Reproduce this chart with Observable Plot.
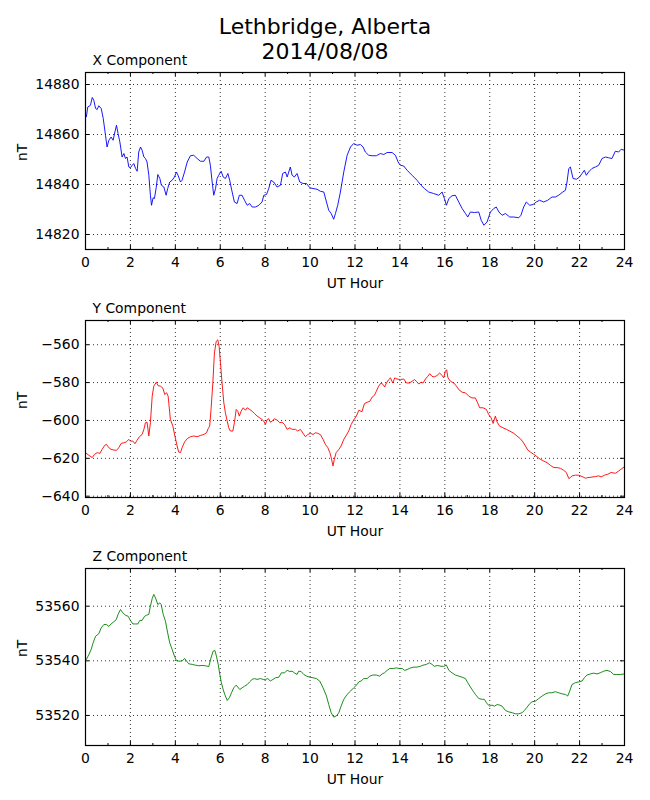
<!DOCTYPE html>
<html>
<head>
<meta charset="utf-8">
<script src="https://cdn.jsdelivr.net/npm/d3@7"></script>
<script src="https://cdn.jsdelivr.net/npm/@observablehq/plot@0.6"></script>
<style>
  html, body { margin: 0; padding: 0; background: white; }
  body { width: 650px; height: 800px; position: relative; font-family: "DejaVu Sans", sans-serif; }
  #title { position: absolute; left: 0; top: 14px; width: 650px; text-align: center; font-size: 22px; line-height: 25px; color: black; z-index: 2; }
  #charts { position: absolute; left: 0; top: 48px; z-index: 1; }
  #charts svg { display: block; }
</style>
</head>
<body>
<div id="title">Lethbridge, Alberta<br>2014/08/08</div>
<div id="charts"></div>
<script>
const xHours = [0.04,0.10,0.22,0.30,0.37,0.45,0.52,0.59,0.70,0.79,0.89,0.96,1.04,1.14,1.23,1.31,1.38,1.45,1.53,1.63,1.71,1.78,1.85,1.93,2.00,2.08,2.15,2.23,2.30,2.37,2.45,2.52,2.60,2.67,2.74,2.82,2.89,2.94,3.01,3.07,3.15,3.22,3.31,3.38,3.49,3.59,3.66,3.75,3.86,3.96,4.05,4.12,4.23,4.30,4.41,4.53,4.67,4.82,4.97,5.12,5.27,5.39,5.49,5.56,5.64,5.71,5.79,5.86,5.93,6.04,6.13,6.23,6.34,6.42,6.53,6.63,6.75,6.85,6.97,7.08,7.20,7.31,7.42,7.57,7.72,7.86,7.94,8.06,8.16,8.26,8.38,8.53,8.68,8.78,8.90,8.98,9.05,9.12,9.20,9.30,9.42,9.54,9.69,9.84,9.99,10.13,10.31,10.46,10.61,10.73,10.83,10.94,11.05,11.13,11.23,11.35,11.50,11.65,11.80,11.94,12.09,12.24,12.36,12.46,12.61,12.76,12.95,13.13,13.28,13.43,13.65,13.80,13.92,14.02,14.17,14.32,14.54,14.76,14.94,15.09,15.28,15.50,15.73,15.88,15.98,16.07,16.18,16.32,16.47,16.62,16.77,16.92,17.02,17.14,17.32,17.51,17.62,17.74,17.88,18.03,18.18,18.29,18.41,18.55,18.70,18.89,19.07,19.29,19.39,19.51,19.63,19.78,19.93,20.07,20.22,20.40,20.58,20.77,20.92,21.07,21.22,21.37,21.44,21.52,21.59,21.71,21.86,22.00,22.11,22.21,22.30,22.40,22.55,22.70,22.85,23.00,23.15,23.29,23.44,23.59,23.74,23.85,24.00];
const xValues = [14867.1,14871.0,14871.7,14874.8,14873.7,14870.4,14870.0,14871.5,14870.4,14866.4,14859.7,14855.0,14857.7,14859.0,14857.7,14861.0,14863.7,14860.4,14857.0,14851.0,14852.4,14850.4,14851.0,14847.0,14846.7,14847.7,14848.4,14846.4,14845.3,14853.0,14855.0,14853.7,14851.0,14850.4,14849.0,14843.7,14835.7,14831.7,14834.7,14834.4,14838.9,14844.0,14842.4,14839.7,14839.0,14835.7,14838.4,14841.0,14841.7,14843.0,14845.0,14843.7,14841.0,14841.7,14845.0,14849.0,14851.5,14851.7,14850.4,14849.3,14849.3,14851.0,14851.0,14847.7,14841.0,14835.7,14838.4,14842.4,14843.7,14845.3,14843.0,14842.4,14844.4,14841.7,14837.0,14833.0,14832.4,14835.7,14835.7,14833.7,14831.7,14832.4,14831.0,14831.0,14831.7,14833.0,14835.7,14836.0,14838.4,14841.7,14841.0,14839.0,14839.7,14844.4,14845.0,14843.0,14845.0,14847.0,14843.7,14843.0,14844.4,14841.0,14840.4,14840.4,14838.7,14838.4,14838.1,14837.3,14837.0,14833.0,14829.7,14828.4,14826.1,14828.4,14831.7,14837.0,14845.0,14851.7,14855.0,14856.4,14855.7,14856.0,14855.0,14853.0,14851.7,14851.5,14851.5,14852.4,14852.0,14852.8,14852.8,14851.7,14849.0,14847.7,14847.4,14845.7,14843.7,14841.7,14839.7,14838.4,14837.0,14836.4,14835.7,14837.0,14834.4,14831.7,14834.4,14835.5,14835.7,14833.0,14830.4,14828.4,14827.0,14829.0,14828.8,14829.0,14825.7,14823.7,14825.0,14829.0,14830.4,14831.0,14829.0,14827.7,14828.4,14827.0,14827.0,14826.7,14827.7,14831.0,14833.0,14831.7,14832.0,14833.0,14833.7,14833.0,14833.7,14835.0,14835.0,14835.7,14836.8,14837.7,14841.0,14846.4,14847.0,14842.4,14842.1,14843.0,14844.4,14845.7,14843.7,14845.0,14846.4,14847.0,14847.7,14850.4,14851.0,14850.7,14850.4,14853.3,14853.0,14854.1,14853.7];

const yHours = [0.04,0.15,0.30,0.40,0.52,0.64,0.74,0.85,0.93,1.04,1.14,1.26,1.38,1.48,1.59,1.71,1.81,1.93,2.00,2.11,2.20,2.30,2.40,2.52,2.60,2.67,2.74,2.82,2.89,2.97,3.04,3.15,3.23,3.34,3.44,3.53,3.61,3.68,3.78,3.89,3.98,4.08,4.15,4.23,4.30,4.41,4.53,4.67,4.82,4.97,5.12,5.27,5.39,5.46,5.53,5.59,5.67,5.74,5.82,5.89,5.95,6.01,6.08,6.16,6.23,6.31,6.38,6.45,6.56,6.63,6.71,6.78,6.85,6.93,7.02,7.12,7.20,7.31,7.42,7.52,7.64,7.76,7.86,7.94,8.01,8.09,8.16,8.23,8.31,8.41,8.53,8.65,8.75,8.86,8.98,9.10,9.20,9.35,9.45,9.57,9.69,9.79,9.90,10.01,10.13,10.24,10.34,10.46,10.58,10.68,10.79,10.88,10.94,11.02,11.08,11.16,11.28,11.38,11.50,11.62,11.72,11.83,11.94,12.06,12.17,12.31,12.42,12.54,12.66,12.76,12.86,12.95,13.05,13.16,13.25,13.32,13.40,13.50,13.58,13.68,13.77,13.87,14.02,14.17,14.29,14.43,14.54,14.65,14.73,14.84,14.94,15.03,15.14,15.24,15.33,15.43,15.53,15.65,15.77,15.88,15.95,16.02,16.08,16.14,16.25,16.40,16.52,16.62,16.77,16.92,17.07,17.21,17.36,17.46,17.55,17.70,17.85,17.95,18.06,18.15,18.25,18.33,18.44,18.59,18.74,18.89,19.07,19.21,19.36,19.48,19.59,19.69,19.81,19.96,20.10,20.25,20.40,20.55,20.70,20.85,21.00,21.15,21.29,21.41,21.52,21.59,21.66,21.81,21.96,22.11,22.26,22.36,22.51,22.71,22.85,22.96,23.11,23.26,23.40,23.59,23.74,23.89,24.00];
const yValues = [-617.4,-618.4,-619.6,-617.9,-617.0,-617.4,-615.3,-613.2,-612.6,-614.4,-615.3,-615.6,-615.8,-614.4,-612.1,-611.8,-611.4,-610.0,-610.9,-610.9,-612.3,-610.4,-608.6,-607.4,-604.7,-601.2,-600.9,-608.2,-601.2,-587.2,-581.9,-579.8,-581.6,-581.9,-582.8,-586.3,-585.4,-587.2,-599.5,-603.0,-608.2,-613.5,-616.7,-617.0,-614.4,-611.4,-609.6,-608.6,-608.2,-608.6,-607.9,-607.4,-606.5,-604.4,-603.0,-594.2,-580.2,-564.4,-558.2,-557.4,-560.9,-569.6,-580.2,-590.7,-596.0,-600.4,-603.9,-605.6,-605.6,-601.2,-594.2,-595.1,-597.7,-595.1,-593.3,-594.6,-593.3,-594.2,-595.1,-596.3,-597.7,-598.6,-599.5,-600.4,-602.1,-599.5,-599.1,-600.9,-600.4,-599.1,-599.8,-601.2,-600.9,-602.1,-604.7,-603.9,-604.7,-604.7,-605.6,-604.7,-606.8,-608.6,-607.4,-606.8,-607.4,-606.5,-606.8,-607.5,-610.0,-612.6,-614.4,-617.0,-619.6,-624.0,-620.5,-617.0,-615.3,-613.5,-610.0,-607.7,-605.6,-602.1,-599.8,-597.7,-594.6,-595.4,-591.1,-590.4,-589.9,-587.7,-586.8,-584.6,-581.9,-580.2,-581.0,-582.3,-580.2,-578.4,-577.5,-580.2,-577.5,-578.1,-578.4,-578.1,-580.2,-580.2,-579.3,-578.4,-579.3,-580.7,-579.8,-580.2,-578.1,-576.7,-575.3,-576.7,-577.0,-576.3,-574.9,-576.3,-577.5,-574.0,-573.2,-577.5,-579.3,-580.2,-581.9,-583.7,-585.1,-585.4,-587.2,-588.1,-588.1,-590.7,-593.3,-593.3,-594.2,-596.8,-598.6,-601.6,-597.7,-600.9,-603.0,-603.9,-604.7,-605.6,-606.8,-608.2,-609.6,-611.4,-613.5,-615.6,-616.7,-617.9,-619.1,-620.5,-621.4,-622.3,-623.7,-624.9,-624.9,-625.3,-626.3,-627.5,-630.7,-630.2,-629.3,-628.9,-628.9,-629.6,-630.5,-630.2,-630.0,-629.6,-629.3,-629.8,-628.9,-628.4,-627.5,-627.9,-626.7,-625.4,-624.4];

const zHours = [0.04,0.15,0.25,0.34,0.45,0.59,0.70,0.82,0.93,1.04,1.14,1.26,1.37,1.45,1.56,1.66,1.78,1.90,2.00,2.11,2.23,2.33,2.42,2.52,2.63,2.72,2.82,2.89,2.97,3.04,3.12,3.22,3.31,3.37,3.46,3.56,3.66,3.75,3.86,3.96,4.05,4.15,4.23,4.33,4.41,4.50,4.60,4.75,4.90,5.04,5.19,5.34,5.49,5.59,5.68,5.76,5.83,5.91,5.98,6.05,6.13,6.20,6.31,6.41,6.50,6.60,6.71,6.78,6.87,6.97,7.08,7.20,7.31,7.42,7.52,7.64,7.79,7.91,8.01,8.12,8.23,8.35,8.46,8.61,8.72,8.86,8.98,9.10,9.20,9.30,9.42,9.49,9.60,9.72,9.84,9.99,10.13,10.28,10.43,10.58,10.73,10.83,10.94,11.05,11.17,11.28,11.38,11.50,11.65,11.80,11.94,12.09,12.17,12.27,12.39,12.54,12.66,12.80,12.95,13.10,13.21,13.31,13.43,13.55,13.70,13.84,13.99,14.10,14.21,14.32,14.47,14.62,14.76,14.91,15.03,15.18,15.31,15.43,15.53,15.68,15.83,15.95,16.07,16.18,16.32,16.47,16.62,16.77,16.92,17.02,17.14,17.26,17.36,17.51,17.66,17.76,17.88,18.00,18.10,18.21,18.33,18.44,18.55,18.70,18.85,19.00,19.14,19.29,19.44,19.54,19.66,19.78,19.88,20.03,20.18,20.33,20.48,20.62,20.77,20.92,21.07,21.22,21.37,21.47,21.56,21.66,21.81,21.96,22.11,22.21,22.33,22.48,22.63,22.77,22.92,23.07,23.22,23.37,23.52,23.66,23.81,24.00];
const zValues = [53540.5,53542.3,53544.1,53546.6,53549.0,53549.9,53552.1,53553.3,53553.3,53552.6,53553.5,53554.3,53555.1,53557.0,53558.8,53557.6,53556.7,53556.3,53554.8,53553.5,53553.5,53553.5,53554.8,53554.8,53556.3,53556.7,53557.0,53560.0,53562.8,53564.3,53563.0,53560.6,53561.2,53560.6,53557.0,53554.5,53550.2,53546.6,53544.1,53541.7,53540.1,53539.9,53539.9,53540.1,53540.9,53539.9,53538.9,53538.7,53538.4,53538.2,53538.3,53538.2,53537.9,53541.1,53543.5,53543.8,53541.7,53538.7,53535.0,53532.0,53529.5,53527.7,53525.5,53526.5,53528.3,53530.1,53531.1,53530.4,53529.5,53530.1,53530.7,53531.3,53532.3,53533.2,53533.5,53533.2,53533.5,53533.2,53533.2,53533.5,53532.6,53533.2,53533.8,53534.0,53535.6,53535.6,53536.5,53536.1,53536.2,53535.6,53535.0,53536.2,53536.1,53535.0,53534.4,53534.0,53533.8,53533.5,53532.6,53530.1,53527.1,53524.0,53521.0,53519.4,53519.8,53521.0,53523.4,53525.9,53527.7,53528.9,53530.1,53531.3,53532.3,53532.6,53533.5,53533.5,53534.4,53534.8,53534.8,53534.4,53535.2,53535.6,53536.5,53537.2,53537.2,53537.4,53537.2,53537.2,53536.5,53536.8,53537.4,53537.7,53537.7,53538.0,53538.4,53538.7,53539.3,53538.7,53538.0,53538.3,53538.0,53538.0,53538.4,53536.5,53535.6,53534.8,53534.4,53534.0,53533.5,53532.0,53530.4,53528.9,53527.7,53526.2,53525.9,53525.9,53524.3,53523.4,53523.8,53523.4,53524.0,53523.8,53523.4,53521.8,53521.3,53521.0,53520.6,53520.6,53521.0,53521.8,53523.0,53524.3,53525.0,53525.2,53526.2,53527.1,53527.9,53528.3,53528.3,53528.7,53528.3,53527.9,53527.7,53527.1,53528.9,53531.3,53532.0,53532.3,53532.6,53533.8,53534.8,53535.2,53535.5,53535.2,53535.6,53536.2,53536.5,53536.1,53535.0,53535.0,53535.0,53535.2];

const hourTicks = [0,2,4,6,8,10,12,14,16,18,20,22,24];
const hourMinorTicks = [1,3,5,7,9,11,13,15,17,19,21,23];
const xTicks = [14820,14840,14860,14880];
const yTicks = [-640,-620,-600,-580,-560];
const zTicks = [53520,53540,53560];

const W = 650, H = 248, ML = 85, MR = 26, MT = 24, MB = 47;
const FW = W - ML - MR, FH = H - MT - MB;
const fmt = d3.format("d");

function panel(hours, values, color, domain, ticks, title) {
  const data = hours.map((h, i) => ({h, v: values[i]}));
  return Plot.plot({
    width: W, height: H,
    marginLeft: ML, marginRight: MR, marginTop: MT, marginBottom: MB,
    style: {fontFamily: "DejaVu Sans", fontSize: "13.9px", color: "black", background: "transparent", overflow: "visible"},
    x: {domain: [0, 24]},
    y: {domain},
    marks: [
      Plot.gridX(hourTicks, {stroke: "black", strokeOpacity: 1, strokeWidth: 0.8, strokeDasharray: "1,3"}),
      Plot.gridY(ticks, {stroke: "black", strokeOpacity: 1, strokeWidth: 0.8, strokeDasharray: "1,3"}),
      Plot.line(data, {x: "h", y: "v", stroke: color, strokeWidth: 0.9}),
      Plot.tickX(hourTicks, {x: d => d, stroke: "black", insetTop: FH - 4}),
      Plot.tickX(hourTicks, {x: d => d, stroke: "black", insetBottom: FH - 4}),
      Plot.tickX(hourMinorTicks, {x: d => d, stroke: "black", insetTop: FH - 2}),
      Plot.tickX(hourMinorTicks, {x: d => d, stroke: "black", insetBottom: FH - 2}),
      Plot.tickY(ticks, {y: d => d, stroke: "black", insetRight: FW - 4}),
      Plot.tickY(ticks, {y: d => d, stroke: "black", insetLeft: FW - 4}),
      Plot.frame({stroke: "black", strokeWidth: 1.2}),
      Plot.axisX(hourTicks, {tickSize: 0, tickPadding: 8, label: null, tickFormat: fmt}),
      Plot.axisY(ticks, {tickSize: 0, tickPadding: 6, label: null, tickFormat: fmt}),
      Plot.text(["UT Hour"], {frameAnchor: "bottom", lineAnchor: "middle", dy: 34, text: d => d, fill: "black"}),
      Plot.text(["nT"], {frameAnchor: "left", dx: -63, rotate: -90, text: d => d, fill: "black"}),
      Plot.text([title], {frameAnchor: "top-left", textAnchor: "start", lineAnchor: "middle", dx: 7, dy: -12, text: d => d, fill: "black"})
    ]
  });
}

const charts = document.getElementById("charts");
charts.appendChild(panel(xHours, xValues, "#0000ff", [14814, 14884.8], xTicks, "X Component"));
charts.appendChild(panel(yHours, yValues, "#ff0000", [-640.7, -547.2], yTicks, "Y Component"));
charts.appendChild(panel(zHours, zValues, "#008000", [53509, 53573.8], zTicks, "Z Component"));
</script>
</body>
</html>
